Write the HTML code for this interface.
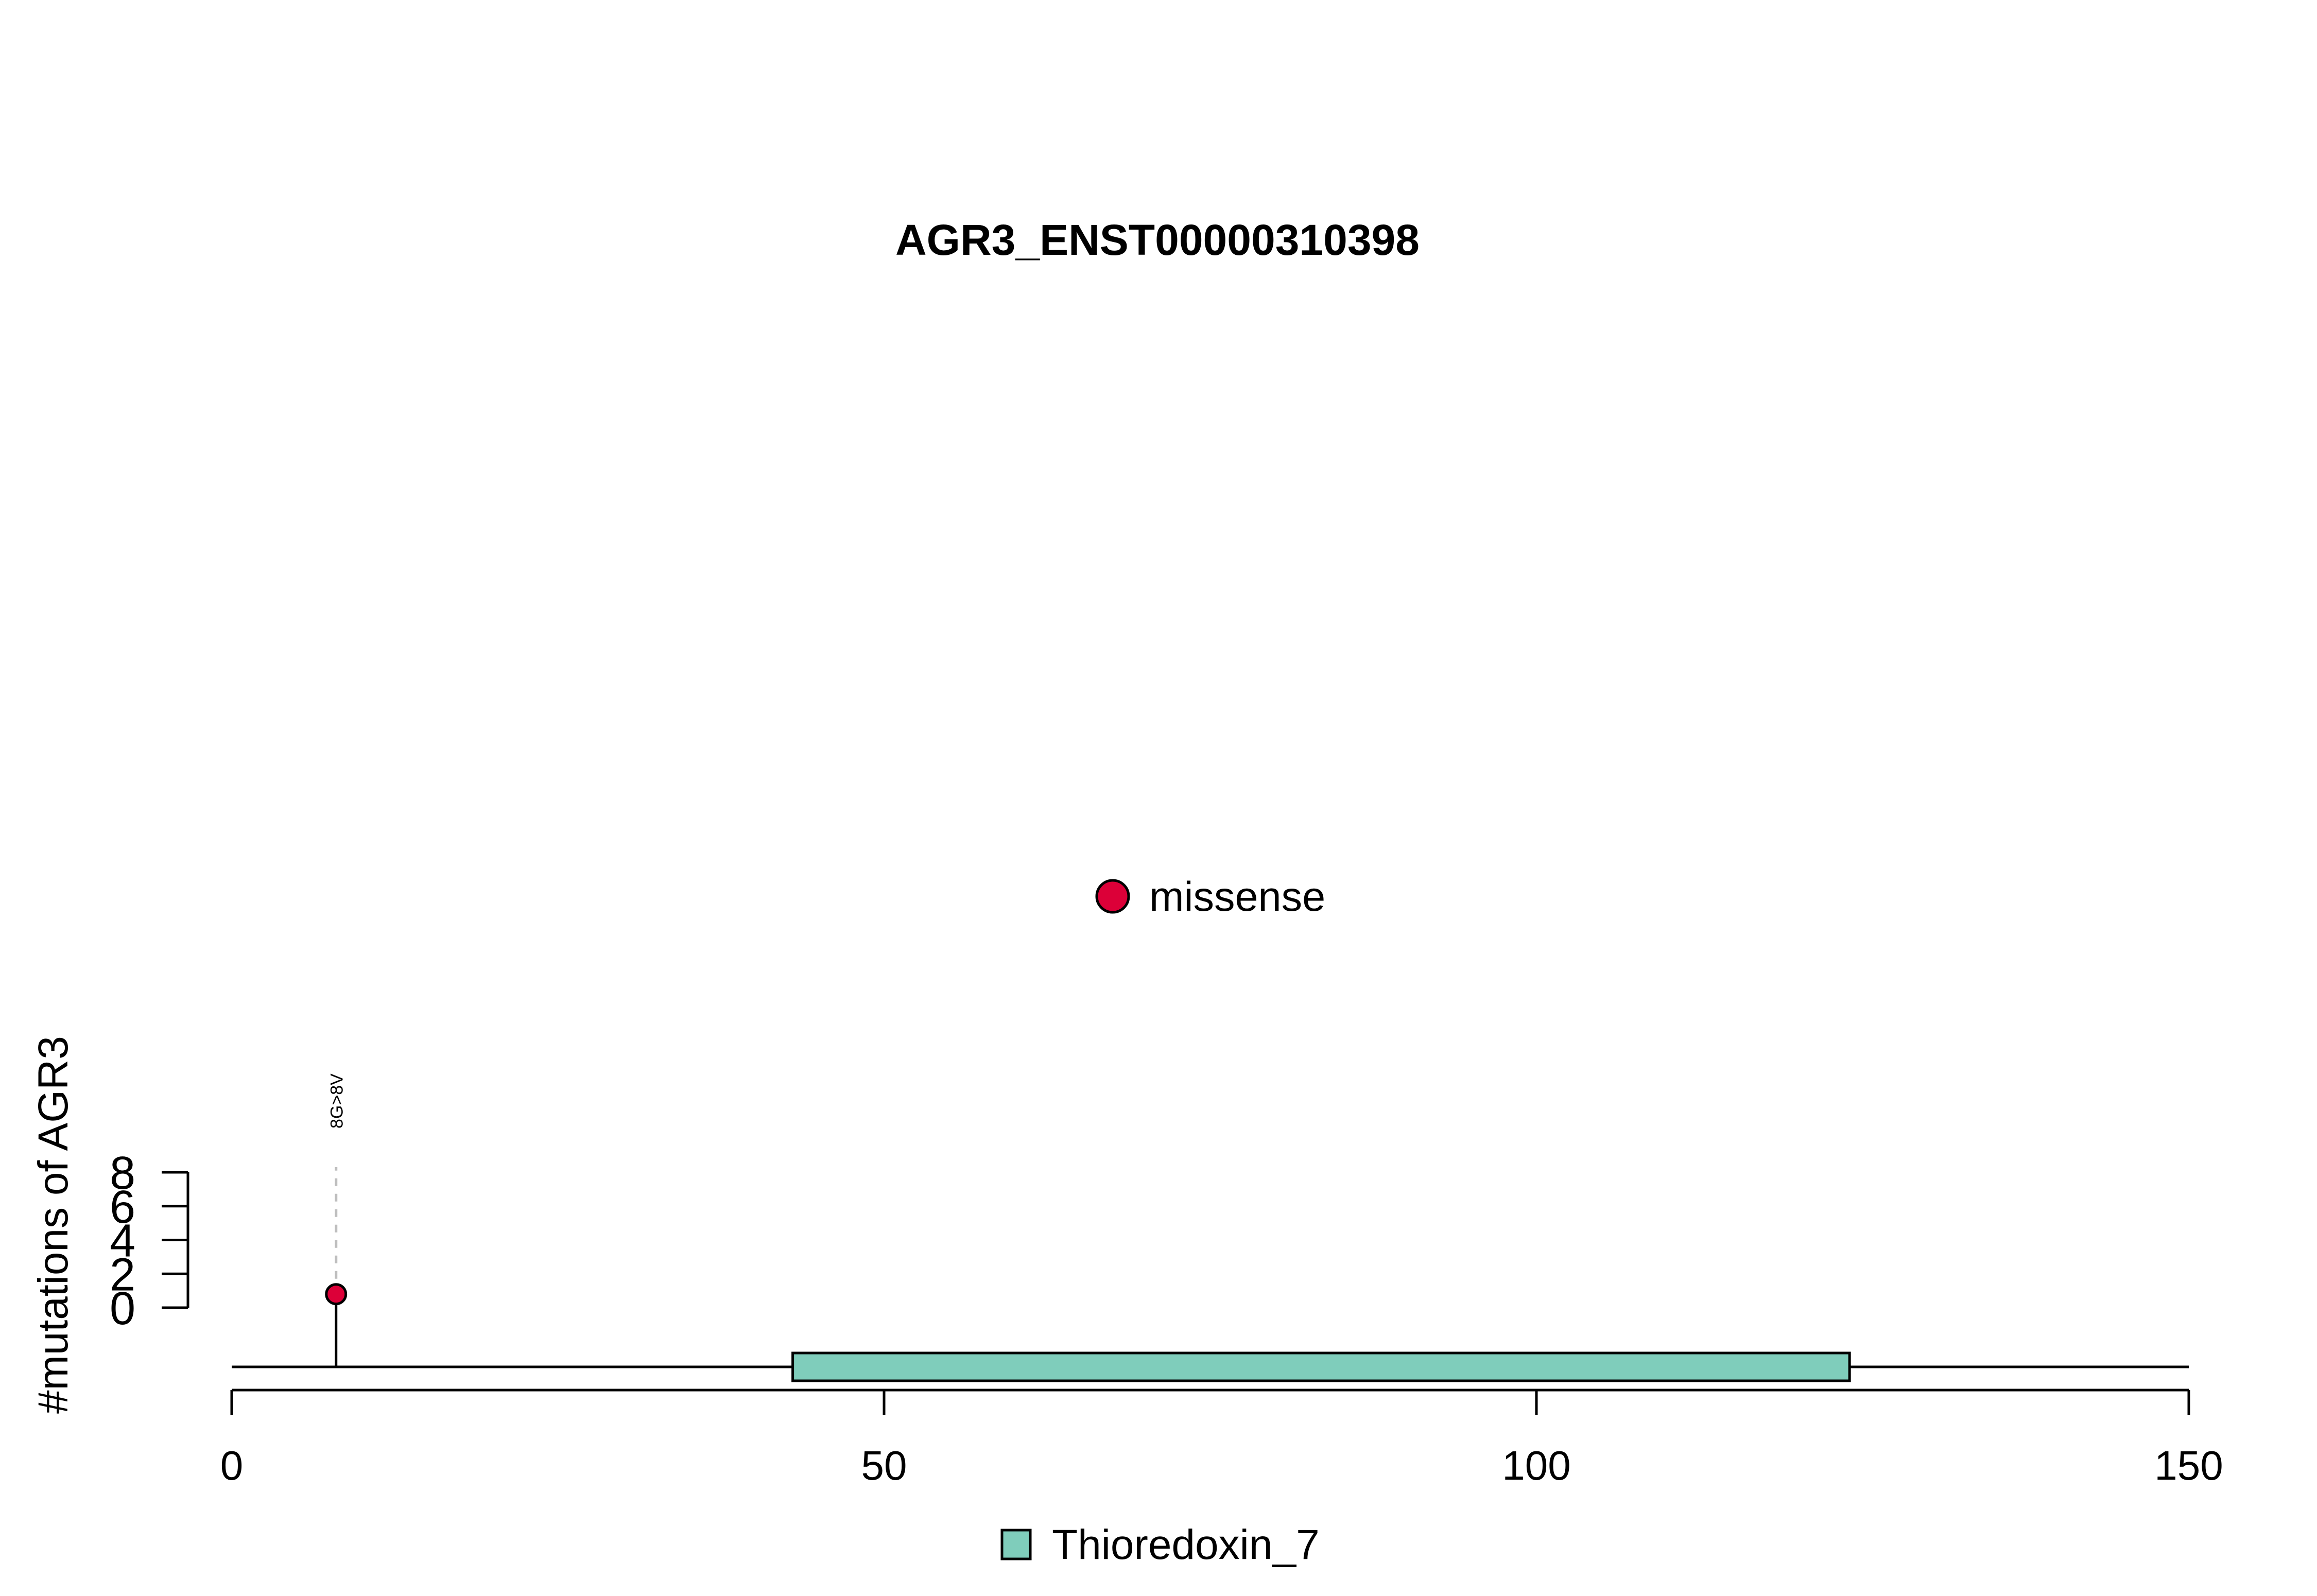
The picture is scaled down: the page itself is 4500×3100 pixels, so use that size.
<!DOCTYPE html>
<html><head><meta charset="utf-8"><style>
html,body{margin:0;padding:0;background:#fff;}
svg{display:block;font-family:"Liberation Sans",Arial,sans-serif;}
</style></head><body>
<svg id="chart" width="4500" height="3100" viewBox="0 0 4500 3100">
<text x="2248" y="495" font-size="84" font-weight="bold" text-anchor="middle">AGR3_ENST00000310398</text>
<g>
<circle cx="2161" cy="1741" r="31" fill="#DC0038" stroke="#000" stroke-width="5"/>
<text x="2232" y="1769" font-size="81">missense</text>
</g>
<g id="plot"></g>
<text transform="translate(131,2746) rotate(-90)" font-size="82">#mutations of AGR3</text>
<g>
<rect x="1946" y="2972" width="55" height="56" fill="#7FCDBB" stroke="#000" stroke-width="5"/>
<text x="2043" y="3028" font-size="82">Thioredoxin_7</text>
</g>
</svg>
<script>
const xTicks = [0, 50, 100, 150];
const yTicks = [0, 2, 4, 6, 8];
const proteinLength = [150];
const domainNames = ["Thioredoxin_7"];
const domainStarts = [43];
const domainEnds = [124];
const mutPositions = [8];
const mutCounts = [0.8];
const mutLabels = ["8G>8V"];

const NS = "http://www.w3.org/2000/svg";
const plot = document.getElementById('plot');
const X = v => 450 + (v - 0) * (4251 - 450) / 150;
const Y = v => 2540 - v * (2540 - 2277) / 8;
const BACK = 2655, AXY = 2700;
function mk(tag, attrs, parent) {
  const e = document.createElementNS(NS, tag);
  for (const k in attrs) e.setAttribute(k, attrs[k]);
  (parent || plot).appendChild(e);
  return e;
}
let bb = mk('line', {x1: X(0), x2: X(proteinLength[0]), y1: BACK, y2: BACK, stroke: '#000', 'stroke-width': 5});


mutPositions.forEach((p, i) => {
  const cx = X(p), cy = Y(mutCounts[i]);
  const st = mk('line', {x1: cx, x2: cx, y1: BACK, y2: cy, stroke: '#000', 'stroke-width': 5});
  
  
  const ds = mk('line', {x1: cx, x2: cx, y1: cy, y2: Y(yTicks[yTicks.length-1]) - 10, stroke: '#BEBEBE', 'stroke-width': 5, 'stroke-dasharray': '15 15'});
  
  
  const c = mk('circle', {cx: cx, cy: cy, r: 19, fill: '#DC0038', stroke: '#000', 'stroke-width': 5});
  
  
  const t = mk('text', {transform: `translate(${cx + 13},2192) rotate(-90)`, 'font-size': 34});
  t.textContent = mutLabels[i];
  
  
});
domainStarts.forEach((s, i) => {
  const r = mk('rect', {x: X(s), y: 2628, width: X(domainEnds[i]) - X(s), height: 54, fill: '#7FCDBB', stroke: '#000', 'stroke-width': 5});
  
  
});
const xa = mk('line', {x1: X(xTicks[0]), x2: X(xTicks[xTicks.length-1]), y1: AXY, y2: AXY, stroke: '#000', 'stroke-width': 5});


xTicks.forEach(v => {
  const tk = mk('line', {x1: X(v), x2: X(v), y1: AXY, y2: 2748, stroke: '#000', 'stroke-width': 5});
  
  
  const tl = mk('text', {x: X(v), y: 2874, 'font-size': 80, 'text-anchor': 'middle'});
  tl.textContent = v;
  
  
});
const ya = mk('line', {x1: 365, x2: 365, y1: Y(yTicks[0]), y2: Y(yTicks[yTicks.length-1]), stroke: '#000', 'stroke-width': 5});


yTicks.forEach(v => {
  const tk = mk('line', {x1: 314, x2: 365, y1: Y(v), y2: Y(v), stroke: '#000', 'stroke-width': 5});
  
  
  const tl = mk('text', {x: 263, y: Y(v) + 32, 'font-size': 90, 'text-anchor': 'end'});
  tl.textContent = v;
  
  
});
</script>
</body></html>
